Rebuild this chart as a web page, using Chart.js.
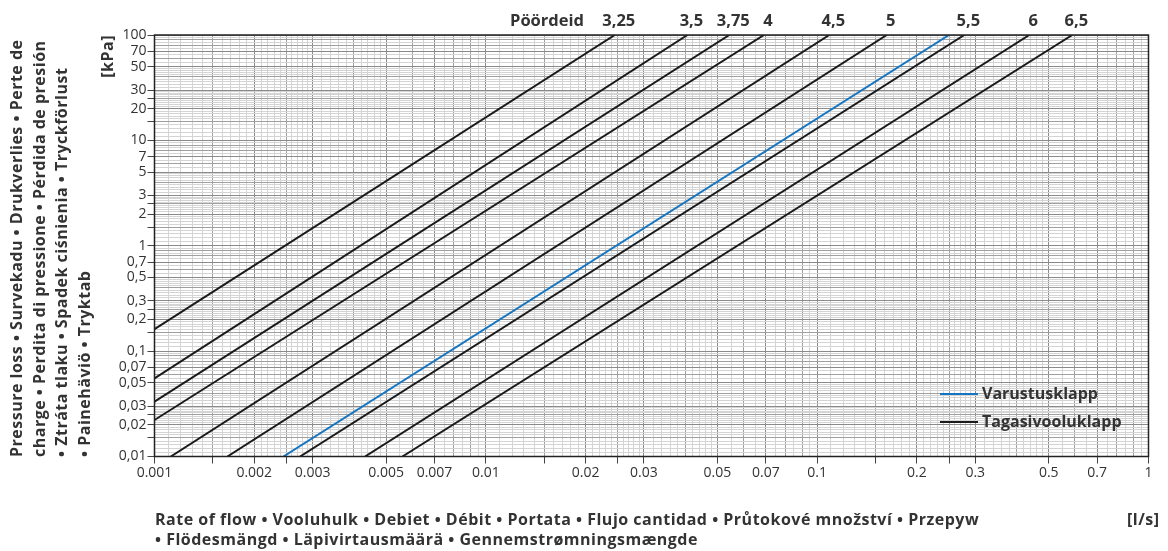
<!DOCTYPE html>
<html>
<head>
<meta charset="utf-8">
<script src="https://cdn.jsdelivr.net/npm/chart.js@4.4.1/dist/chart.umd.min.js"></script>
<style>
  html, body { margin: 0; padding: 0; background: #fff; }
  #wrap { position: relative; width: 1168px; height: 551px; font-family: "Open Sans", sans-serif; color: #333; }
  #chart { position: absolute; left: 0; top: 0; }
  .rot { position: absolute; left: 0; top: 0; transform-origin: 0 0; white-space: nowrap; font-weight: 700; }
  #ylong { transform: translate(5px, 457px) rotate(-90deg); font-size: 16px; letter-spacing: 0.5px; line-height: 22.5px; }
  #yunit { transform: translate(97px, 457px) rotate(-90deg); width: 422px; text-align: right; font-size: 16px; letter-spacing: 0.5px; line-height: 20px; }
  #xlong { position: absolute; left: 155px; top: 510px; font-size: 16px; letter-spacing: 0.5px; line-height: 19.5px; font-weight: 700; white-space: nowrap; }
  #xunit { position: absolute; left: 1127px; top: 510px; font-size: 16px; letter-spacing: 0.5px; line-height: 19.5px; font-weight: 700; }
</style>
</head>
<body>
<div id="wrap">
  <canvas id="chart" width="1168" height="551"></canvas>
  <div class="rot" id="ylong">Pressure loss • Survekadu • Drukverlies • Perte de<br>charge • Perdita di pressione • Pérdida de presión<br>• Ztráta tlaku • Spadek ciśnienia • Tryckförlust<br>• Painehäviö • Tryktab</div>
  <div class="rot" id="yunit">[kPa]</div>
  <div id="xlong">Rate of flow • Vooluhulk • Debiet • Débit • Portata • Flujo cantidad • Průtokové množství • Przepyw<br>• Flödesmängd • Läpivirtausmäärä • Gennemstrømningsmængde</div>
  <div id="xunit">[l/s]</div>
</div>
<script>
// flow [l/s] vs pressure loss [kPa], each line read at its two ends
const turnTitle = "Pöördeid";
const turnLabels = ["3,25", "3,5", "3,75", "4", "4,5", "5", "5,5", "6", "6,5"];
const blackFlowStart = [0.001, 0.001, 0.001, 0.001, 0.00112, 0.00166, 0.00275, 0.00432, 0.0056];
const blackLossStart = [0.162, 0.0552, 0.0331, 0.0222, 0.01, 0.01, 0.01, 0.01, 0.01];
const blackFlowEnd = [0.0245, 0.0406, 0.0543, 0.0691, 0.1088, 0.1622, 0.278, 0.4368, 0.5888];
const blackLossEnd = [100, 100, 100, 100, 100, 100, 100, 100, 100];
const blueFlow = [0.00245, 0.25];
const blueLoss = [0.01, 100];
const blueName = "Varustusklapp";
const blackName = "Tagasivooluklapp";

const xTickValues = [0.001, 0.002, 0.003, 0.005, 0.007, 0.01, 0.02, 0.03, 0.05, 0.07, 0.1, 0.2, 0.3, 0.5, 0.7, 1];
const xTickLabels = ["0.001", "0.002", "0.003", "0.005", "0.007", "0.01", "0.02", "0.03", "0.05", "0.07", "0.1", "0.2", "0.3", "0.5", "0.7", "1"];
const yTickValues = [0.01, 0.02, 0.03, 0.05, 0.07, 0.1, 0.2, 0.3, 0.5, 0.7, 1, 2, 3, 5, 7, 10, 20, 30, 50, 70, 100];
const yTickLabels = ["0,01", "0,02", "0,03", "0,05", "0,07", "0,1", "0,2", "0,3", "0,5", "0,7", "1", "2", "3", "5", "7", "10", "20", "30", "50", "70", "100"];

const BLUE = "#1675c0";
const BLACK = "#1a1a1a";

// graph paper: mantissas inside one decade
function mantissas() {
  const out = [];
  for (let m = 1; m < 2.999; m += 0.1) out.push(Math.round(m * 100) / 100);
  for (let m = 3; m < 4.999; m += 0.2) out.push(Math.round(m * 100) / 100);
  for (let m = 5; m < 9.999; m += 0.5) out.push(Math.round(m * 100) / 100);
  return out;
}

function paperTicks(min, max, labVals, labTexts) {
  const list = [];
  const e0 = Math.round(Math.log10(min));
  const e1 = Math.round(Math.log10(max));
  const ms = mantissas();
  for (let e = e0; e <= e1; e++) {
    for (const m of ms) {
      if (e === e1 && m > 1) break;
      const v = parseFloat((m * Math.pow(10, e)).toPrecision(6));
      const li = labVals.findIndex(l => Math.abs(Math.log10(l / v)) < 1e-6);
      let kind = "minor";
      if (li >= 0) kind = "label";
      else if (m === 1.5 || m === 2.5) kind = "tick";
      else if (m === 4 || m === 6 || m === 8 || m === 9) kind = "mid";
      list.push({ value: v, kind: kind, txt: li >= 0 ? labTexts[li] : "" });
    }
  }
  return list;
}

function gridColor(ctx) {
  const k = ctx.tick ? ctx.tick.kind : "minor";
  if (k === "label") return "#8a8a8a";
  if (k === "tick" || k === "mid") return "#a0a0a0";
  return "#d4d4d4";
}
function tickColor(ctx) {
  const k = ctx.tick ? ctx.tick.kind : "minor";
  return (k === "label" || k === "tick") ? "#444" : "rgba(0,0,0,0)";
}

const datasets = [];
for (let i = 0; i < turnLabels.length; i++) {
  datasets.push({
    label: blackName + " " + turnLabels[i],
    data: [{ x: blackFlowStart[i], y: blackLossStart[i] }, { x: blackFlowEnd[i], y: blackLossEnd[i] }],
    borderColor: BLACK,
    borderWidth: 2,
    pointRadius: 0,
    fill: false
  });
}
datasets.push({
  label: blueName,
  data: blueFlow.map((f, i) => ({ x: f, y: blueLoss[i] })),
  borderColor: BLUE,
  borderWidth: 2,
  pointRadius: 0,
  fill: false
});

const overlay = {
  id: "overlay",
  afterDraw(chart) {
    const c = chart.ctx;
    const a = chart.chartArea;
    const xs = chart.scales.x;
    c.save();
    // frame
    c.strokeStyle = "#222";
    c.lineWidth = 1.5;
    c.strokeRect(a.left, a.top, a.right - a.left, a.bottom - a.top);
    // turn labels above the top ends
    c.fillStyle = "#333";
    c.font = "bold 16.5px 'Open Sans', sans-serif";
    c.textAlign = "center";
    c.textBaseline = "alphabetic";
    c.fillText(turnTitle, 547, 26);
    turnLabels.forEach((t, i) => {
      c.fillText(t, xs.getPixelForValue(blackFlowEnd[i]) + 4, 26);
    });
    // legend
    c.font = "bold 16px 'Open Sans', sans-serif";
    c.textAlign = "left";
    c.textBaseline = "middle";
    const items = [[blueName, BLUE, 394], [blackName, BLACK, 422]];
    items.forEach(([name, col, y]) => {
      c.strokeStyle = col;
      c.lineWidth = 2;
      c.beginPath();
      c.moveTo(940, y);
      c.lineTo(978, y);
      c.stroke();
      c.fillStyle = "#333";
      c.fillText(name, 982, y);
    });
    c.restore();
  }
};

new Chart(document.getElementById("chart"), {
  type: "line",
  data: { datasets: datasets },
  options: {
    responsive: false,
    animation: false,
    layout: { padding: { left: 0, top: 35, right: 19.5, bottom: 0 } },
    plugins: { legend: { display: false }, tooltip: { enabled: false } },
    elements: { line: { tension: 0 } },
    scales: {
      x: {
        type: "logarithmic",
        min: 0.001,
        max: 1,
        afterFit: s => { s.height = 94.5; },
        afterBuildTicks: s => { s.ticks = paperTicks(0.001, 1, xTickValues, xTickLabels); },
        grid: { color: gridColor, tickColor: tickColor, lineWidth: 1, tickLength: 7 },
        border: { display: false },
        ticks: {
          autoSkip: false,
          maxRotation: 0,
          padding: 1,
          color: "#333",
          font: { family: "'Open Sans', sans-serif", size: 14 },
          callback: (v, i, ticks) => ticks[i].txt || ""
        }
      },
      y: {
        type: "logarithmic",
        min: 0.01,
        max: 100,
        afterFit: s => { s.width = 154.5; },
        afterBuildTicks: s => { s.ticks = paperTicks(0.01, 100, yTickValues, yTickLabels); },
        grid: { color: gridColor, tickColor: tickColor, lineWidth: 1, tickLength: 7 },
        border: { display: false },
        ticks: {
          autoSkip: false,
          padding: 1,
          color: "#333",
          font: { family: "'Open Sans', sans-serif", size: 14 },
          callback: (v, i, ticks) => ticks[i].txt || ""
        }
      }
    }
  },
  plugins: [overlay]
});
</script>
</body>
</html>
